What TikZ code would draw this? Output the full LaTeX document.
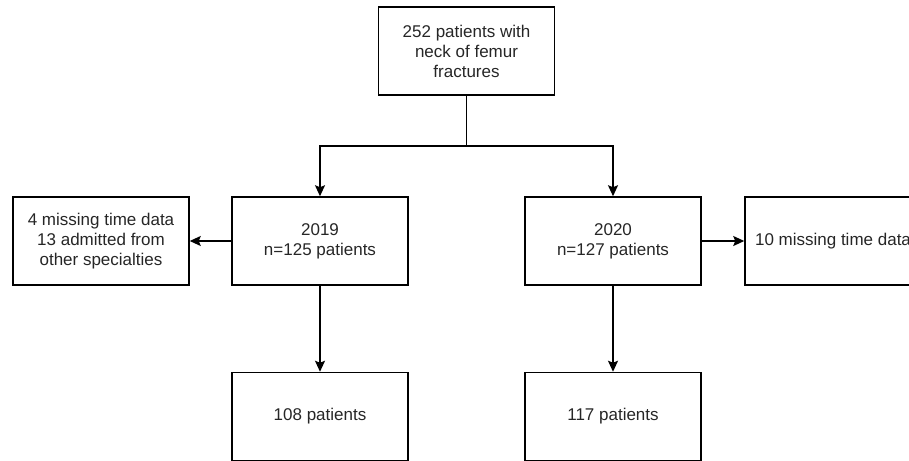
\documentclass[tikz,border=0pt]{standalone}
\usepackage{fontspec}
\setmainfont{Liberation Sans}
\usetikzlibrary{arrows.meta}
\definecolor{txt}{HTML}{262626}
\begin{document}
\begin{tikzpicture}[x=1pt,y=-1pt,
  box/.style={draw=black, line width=1.5pt, minimum width=176pt, minimum height=88pt,
    inner sep=0pt, align=center, text=txt, font=\fontsize{17}{20}\selectfont},
  arr/.style={line width=1.5pt, -{Stealth[length=11pt,width=10pt,inset=2pt]}},
  ln/.style={line width=1.5pt}]
\useasboundingbox (0,0) rectangle (909,460);
\clip (0,0) rectangle (909,460);
\node[box] (top) at (466.5,51) {252 patients with\\neck of femur\\fractures};
\node[box] (miss19) at (101,241) {4 missing time data\\13 admitted from\\other specialties};
\node[box] (y2019) at (320,241) {2019\\n=125 patients};
\node[box] (y2020) at (613,241) {2020\\n=127 patients};
\node[box] (miss20) at (833,241) {10 missing time data};
\node[box] (p108) at (320,416.5) {108 patients};
\node[box] (p117) at (613,416.5) {117 patients};
\coordinate (split) at (466.5,146);
\draw[ln] (top.south) -- (split);
\draw[arr] (split) -| (y2019.north);
\draw[arr] (split) -| (y2020.north);
\draw[arr] (y2019.west) -- (miss19.east);
\draw[arr] (y2020.east) -- (miss20.west);
\draw[arr] (y2019.south) -- (p108.north);
\draw[arr] (y2020.south) -- (p117.north);
\end{tikzpicture}
\end{document}
